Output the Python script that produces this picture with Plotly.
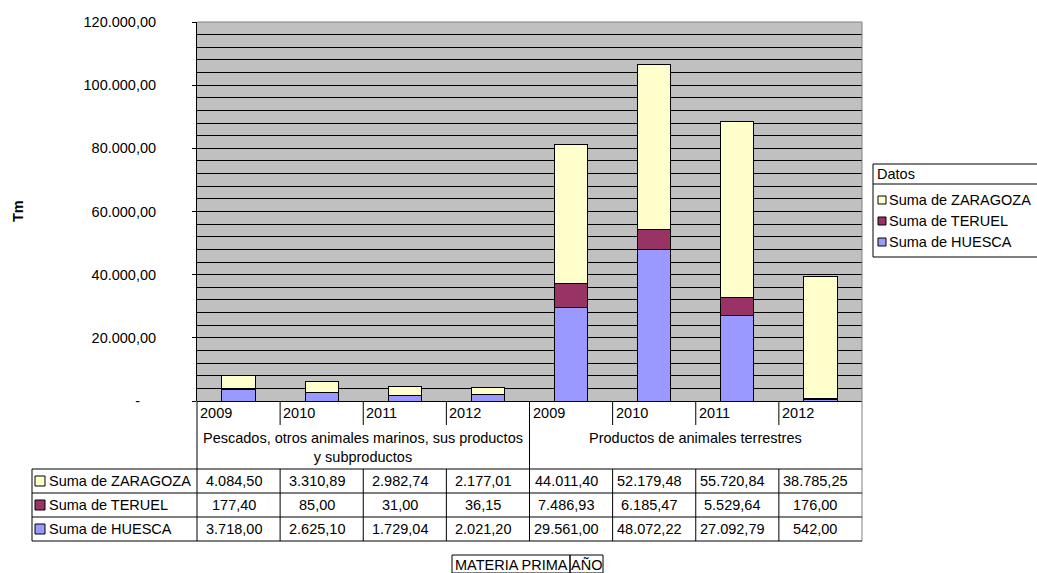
import plotly.graph_objects as go

# ---------------- data ----------------
years = ["2009", "2010", "2011", "2012"]
groups = ["Pescados, otros animales marinos, sus productos<br>y subproductos",
          "Productos de animales terrestres"]
series_names = ["Suma de ZARAGOZA", "Suma de TERUEL", "Suma de HUESCA"]
zaragoza = [4084.50, 3310.89, 2982.74, 2177.01, 44011.40, 52179.48, 55720.84, 38785.25]
teruel = [177.40, 85.00, 31.00, 36.15, 7486.93, 6185.47, 5529.64, 176.00]
huesca = [3718.00, 2625.10, 1729.04, 2021.20, 29561.00, 48072.22, 27092.79, 542.00]
y_ticks = [0, 20000, 40000, 60000, 80000, 100000, 120000]
y_title = "Tm"
legend_title = "Datos"
footer_fields = ["MATERIA PRIMA", "AÑO"]

colors = {"Suma de ZARAGOZA": "#FFFFCC", "Suma de TERUEL": "#993366", "Suma de HUESCA": "#9999FF"}
values = {"Suma de ZARAGOZA": zaragoza, "Suma de TERUEL": teruel, "Suma de HUESCA": huesca}

W, H = 1037, 573
FONT = "Liberation Sans, Arial, sans-serif"
FS = 14.5


def P(px):
    return px / W


def Q(py):
    return 1 - py / H


def fmt(v):
    s = f"{v:,.2f}"
    return s.replace(",", "X").replace(".", ",").replace("X", ".")


n_cat = len(years) * len(groups)
xs = list(range(n_cat))

fig = go.Figure()
for name in ["Suma de HUESCA", "Suma de TERUEL", "Suma de ZARAGOZA"]:
    fig.add_trace(go.Bar(
        x=xs, y=values[name], name=name,
        marker=dict(color=colors[name], line=dict(color="black", width=1)),
        width=0.4, showlegend=False,
        hovertemplate="%{y:,.2f}<extra>" + name + "</extra>",
    ))

# plot-area geometry (pixels)
PL, PR, PT, PB = 197, 862, 22, 401

ticktext = [fmt(v) if v else "-\u00a0\u00a0\u00a0\u00a0" for v in y_ticks]

fig.update_layout(
    width=W, height=H, autosize=False,
    margin=dict(l=0, r=0, t=0, b=0, pad=0),
    paper_bgcolor="white", plot_bgcolor="#C0C0C0",
    barmode="stack", bargap=0.6,
    font=dict(family=FONT, size=FS, color="black"),
    xaxis=dict(domain=[P(PL), P(PR)], range=[-0.5, n_cat - 0.5],
               showticklabels=False, showgrid=False, zeroline=False,
               showline=False, ticks="", fixedrange=True, automargin=False),
    yaxis=dict(domain=[Q(PB), Q(PT)], range=[0, 120000],
               tickvals=y_ticks, ticktext=ticktext,
               ticks="outside", ticklen=4, tickcolor="black",
               ticklabelstandoff=33, automargin=False,
               showgrid=True, gridcolor="black", gridwidth=1,
               minor=dict(dtick=4000, showgrid=True, gridcolor="black", gridwidth=1, ticks=""),
               showline=True, linecolor="black", linewidth=1,
               zeroline=True, zerolinecolor="black", zerolinewidth=1,
               fixedrange=True),
)

shapes = []
ann = []


def line(x0, y0, x1, y1, color="black", xref="paper"):
    shapes.append(dict(type="line", xref=xref, yref="paper",
                       x0=x0, y0=y0, x1=x1, y1=y1,
                       line=dict(color=color, width=1)))


# plot area top / right borders (gray)
line(P(PL), Q(PT), P(PR), Q(PT), "#808080")
line(P(PR), Q(PT), P(PR), Q(541), "#808080")

# ---- category header area ----
YR_B = 425
ROW_TOP = [469, 493, 517]
ROW_BOT = 541
TL = 32
line(P(PL), Q(PB), P(PL), Q(ROW_TOP[0]))
for g in range(1, len(groups)):
    xg = g * len(years) - 0.5
    line(xg, Q(PB), xg, Q(ROW_BOT), xref="x")
for i in range(1, n_cat):
    if i % len(years):
        line(i - 0.5, Q(PB), i - 0.5, Q(YR_B), xref="x")

for i in xs:
    ann.append(dict(x=i - 0.5, y=Q(413), xref="x", yref="paper", xshift=1,
                    text=years[i % len(years)], showarrow=False,
                    xanchor="left", yanchor="middle"))
for g, gname in enumerate(groups):
    xc = g * len(years) + (len(years) - 1) / 2
    ann.append(dict(x=xc, y=Q(428), xref="x", yref="paper",
                    text=gname, showarrow=False, xanchor="center", yanchor="top",
                    align="center"))

# ---- data table ----
for yt in ROW_TOP + [ROW_BOT]:
    line(P(TL), Q(yt), P(PR), Q(yt))
line(P(TL), Q(ROW_TOP[0]), P(TL), Q(ROW_BOT))
line(P(PL), Q(ROW_TOP[0]), P(PL), Q(ROW_BOT))
for i in range(1, n_cat):
    if i % len(years):
        line(i - 0.5, Q(ROW_TOP[0]), i - 0.5, Q(ROW_BOT), xref="x")

for r, name in enumerate(series_names):
    yc = (ROW_TOP[r] + 12)
    shapes.append(dict(type="rect", xref="paper", yref="paper",
                       x0=P(35), x1=P(45), y0=Q(yc - 5), y1=Q(yc + 5),
                       fillcolor=colors[name], line=dict(color="black", width=1)))
    ann.append(dict(x=P(47), y=Q(yc), xref="paper", yref="paper", text=name,
                    showarrow=False, xanchor="left", yanchor="middle"))
    for i in xs:
        ann.append(dict(x=i, y=Q(yc), xref="x", yref="paper", xshift=-5,
                        text=fmt(values[name][i]), showarrow=False,
                        xanchor="center", yanchor="middle"))

# ---- legend (drawn) ----
LG_L, LG_T, LG_D, LG_B = 873, 164, 184, 257
shapes.append(dict(type="rect", xref="paper", yref="paper",
                   x0=P(LG_L), x1=P(W + 5), y0=Q(LG_B), y1=Q(LG_T),
                   line=dict(color="black", width=1), fillcolor="white", layer="above"))
line(P(LG_L), Q(LG_D), P(W + 5), Q(LG_D))
ann.append(dict(x=P(875), y=Q(174), xref="paper", yref="paper", text=legend_title,
                showarrow=False, xanchor="left", yanchor="middle"))
for k, (name, yc) in enumerate(zip(series_names, [200, 221, 242])):
    shapes.append(dict(type="rect", xref="paper", yref="paper",
                       x0=P(878), x1=P(886), y0=Q(yc - 4), y1=Q(yc + 4),
                       fillcolor=colors[name], line=dict(color="black", width=1)))
    ann.append(dict(x=P(887), y=Q(yc), xref="paper", yref="paper", text=name,
                    showarrow=False, xanchor="left", yanchor="middle"))

# ---- y axis title ----
ann.append(dict(x=P(18), y=Q(211), xref="paper", yref="paper", text="<b>" + y_title + "</b>",
                textangle=-90, showarrow=False, xanchor="center", yanchor="middle"))

# ---- footer field buttons ----
FX0, FY0, FY1 = 452, 555, 573
x = FX0
for f, wdt in zip(footer_fields, [118, 33]):
    shapes.append(dict(type="rect", xref="paper", yref="paper",
                       x0=P(x), x1=P(x + wdt), y0=Q(FY1), y1=Q(FY0),
                       line=dict(color="black", width=1)))
    ann.append(dict(x=P(x + wdt / 2), y=Q((FY0 + FY1) / 2 + 1), xref="paper", yref="paper",
                    text=f, showarrow=False, xanchor="center", yanchor="middle"))
    x += wdt

fig.update_layout(shapes=shapes, annotations=ann)
fig.write_html(
    "out.html",
    config={"displayModeBar": False},
    post_script="document.body.style.margin='0';document.body.style.overflow='hidden';",
)
